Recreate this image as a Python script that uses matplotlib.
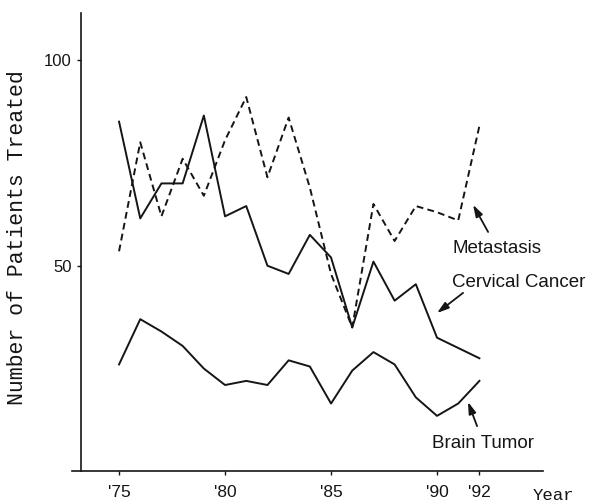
import numpy as np
import matplotlib.pyplot as plt

years = [75, 76, 77, 78, 79, 80, 81, 82, 83, 84, 85, 86, 87, 88, 89, 90, 91, 92]
cervical = [85, 61.5, 70, 70, 86.5, 62, 64.5, 50, 48, 57.5, 52, 35, 51, 41.5, 45.5, 32.5, 30, 27.5]
metastasis = [53.5, 80, 62, 76, 67, 80.5, 91, 71.5, 86, 69, 48, 35, 65, 56, 64.5, 63, 61, 84]
brain = [26, 37, 34, 30.5, 25, 21, 22, 21, 27, 25.5, 16.5, 24.5, 29, 26, 18, 13.5, 16.5, 22]

xticks = [75, 80, 85, 90, 92]
xticklabels = ["'75", "'80", "'85", "'90", "'92"]
yticks = [50, 100]

ink = '#151515'
fig = plt.figure(figsize=(5.96, 5.03), dpi=100)
ax = fig.add_axes([0.1215, 0.0628, 0.7896, 0.912])

ax.plot(years, cervical, color=ink, lw=1.4)
ax.plot(years, brain, color=ink, lw=1.4)
ax.plot(years, metastasis, color=ink, lw=1.4, linestyle=(0, (3.5, 2.2)))

ax.set_xlim(72.8, 95)
ax.set_ylim(0, 111.5)
for s in ['top', 'right']:
	ax.spines[s].set_visible(False)
ax.spines['left'].set_position(('data', 73.2))
ax.spines['left'].set_color(ink)
ax.spines['bottom'].set_color(ink)
ax.spines['left'].set_linewidth(1.2)
ax.spines['bottom'].set_linewidth(1.2)

ax.set_xticks(xticks)
ax.set_xticklabels(xticklabels, fontsize=12.5, family='Liberation Sans')
ax.set_yticks(yticks)
ax.set_yticklabels([str(v) for v in yticks], fontsize=12, family='Liberation Sans')
ax.tick_params(axis='x', length=3, width=1, pad=6.5, colors=ink)
ax.tick_params(axis='y', length=3, width=1, pad=3.6, colors=ink)

fig.text(0.03, 0.527, 'Number of Patients Treated', rotation=90, ha='center', va='center',
	fontsize=15.5, family='Liberation Mono', color=ink)
fig.text(533/596, 2.5/503, 'Year', ha='left', va='baseline', fontsize=12.5,
	family='Liberation Mono', color=ink)

fs = 13.5
ax.text(90.71, 53.2, 'Metastasis', fontsize=fs, family='Liberation Sans', va='baseline', color=ink)
ax.text(90.69, 44.9, 'Cervical Cancer', fontsize=fs, family='Liberation Sans', va='baseline', color=ink)
ax.text(89.75, 5.7, 'Brain Tumor', fontsize=fs, family='Liberation Sans', va='baseline', color=ink)

arrow = dict(arrowstyle='-|>,head_length=0.7,head_width=0.22', color=ink, lw=1.3,
	mutation_scale=10, shrinkA=0, shrinkB=0)
ax.annotate('', xy=(91.70, 64.8), xytext=(92.41, 58.2), arrowprops=arrow)
ax.annotate('', xy=(90.0, 38.5), xytext=(91.23, 43.4), arrowprops=arrow)
ax.annotate('', xy=(91.46, 16.9), xytext=(91.89, 11.0), arrowprops=arrow)

plt.savefig('out.png', dpi=100)
